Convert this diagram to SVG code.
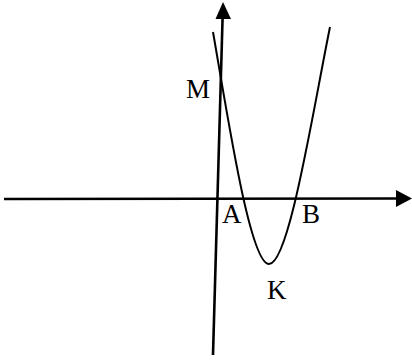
<svg xmlns="http://www.w3.org/2000/svg" width="412" height="360" viewBox="0 0 412 360">
<style>
.axis{stroke:#000;stroke-width:2.6;fill:none}
.curve{stroke:#000;stroke-width:2;fill:none}
.lbl{font-family:"Liberation Serif","Times New Roman",serif;font-size:27px;fill:#000}
.head{fill:#000}
</style>
<rect width="412" height="360" fill="#fff"/>
<g id="connectors">
<line class="axis" x1="4" y1="199" x2="398" y2="198.5"/>
<polygon class="head" points="412,198.5 396,190 396,207"/>
<line class="axis" x1="213" y1="355" x2="222.6" y2="17"/>
<polygon class="head" points="223,2 215.5,19 231,19"/>
<path class="curve" d="M213,32 C228,118 250,264 269,264 C289,264 312.5,113 330,27"/>
</g>
<g id="M"><text class="lbl" x="186" y="98">M</text></g>
<g id="A"><text class="lbl" x="222" y="223">A</text></g>
<g id="B"><text class="lbl" x="302" y="223">B</text></g>
<g id="K"><text class="lbl" x="267" y="299">K</text></g>
</svg>
